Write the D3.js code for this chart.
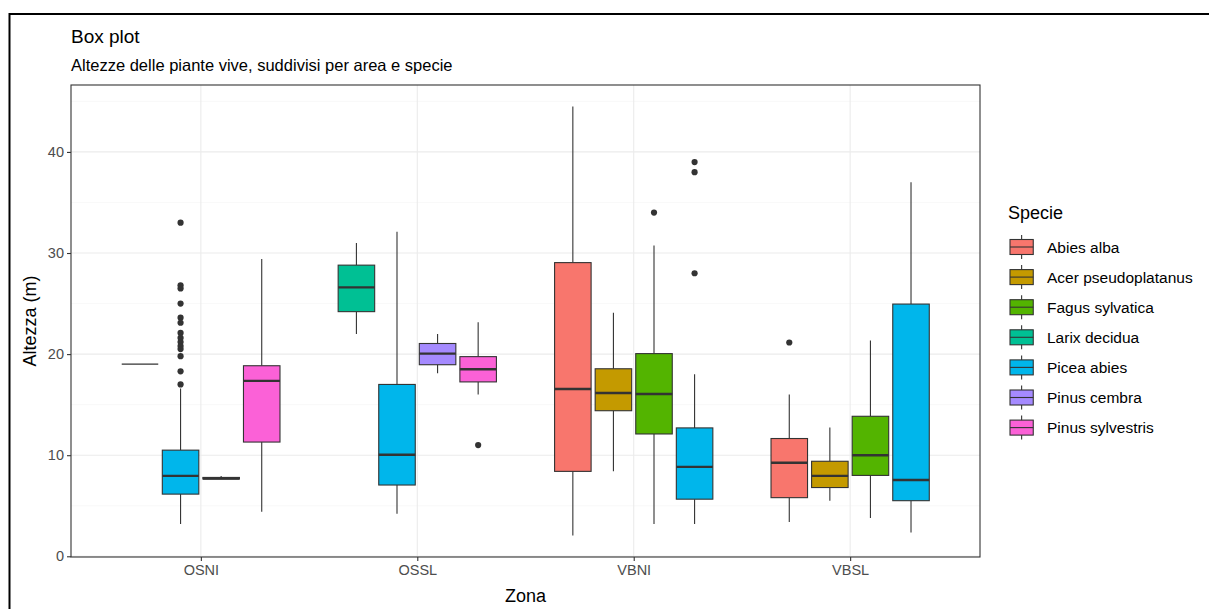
<!DOCTYPE html>
<html>
<head>
<meta charset="utf-8">
<script src="https://cdn.jsdelivr.net/npm/d3@7"></script>
<style>
  body { margin: 0; background: #fff; }
  svg { display: block; font-family: "Liberation Sans", Arial, sans-serif; }
</style>
</head>
<body>
<script>
var width = 1209
var height = 609

// zone and species
var zones = ["OSNI", "OSSL", "VBNI", "VBSL"]
var species = ["Abies alba", "Acer pseudoplatanus", "Fagus sylvatica", "Larix decidua",
               "Picea abies", "Pinus cembra", "Pinus sylvestris"]
var colors = ["#F8766D", "#C49A00", "#53B400", "#00C094", "#00B6EB", "#A58AFF", "#FB61D7"]

// box statistics, one entry per box
var boxZone    = ["OSNI", "OSNI", "OSNI", "OSNI",
                  "OSSL", "OSSL", "OSSL", "OSSL",
                  "VBNI", "VBNI", "VBNI", "VBNI",
                  "VBSL", "VBSL", "VBSL", "VBSL"]
var boxSpecies = ["Larix decidua", "Picea abies", "Pinus cembra", "Pinus sylvestris",
                  "Larix decidua", "Picea abies", "Pinus cembra", "Pinus sylvestris",
                  "Abies alba", "Acer pseudoplatanus", "Fagus sylvatica", "Picea abies",
                  "Abies alba", "Acer pseudoplatanus", "Fagus sylvatica", "Picea abies"]
var boxLow  = [19.0, 3.2, 7.65, 4.4,   22.0, 4.2, 18.1, 16.0,   2.05, 8.4, 3.2, 3.2,   3.4, 5.5, 3.8, 2.35]
var boxQ1   = [19.0, 6.15, 7.65, 11.3, 24.2, 7.05, 18.95, 17.25, 8.4, 14.4, 12.1, 5.65, 5.8, 6.8, 8.0, 5.5]
var boxMed  = [19.0, 7.95, 7.7, 17.35, 26.6, 10.05, 20.05, 18.5, 16.55, 16.15, 16.05, 8.85, 9.25, 7.95, 10.0, 7.55]
var boxQ3   = [19.0, 10.5, 7.8, 18.85, 28.8, 17.0, 21.05, 19.75, 29.05, 18.55, 20.05, 12.7, 11.65, 9.4, 13.85, 24.95]
var boxHigh = [19.0, 16.6, 7.95, 29.4, 31.0, 32.1, 22.0, 23.15, 44.5, 24.1, 30.75, 18.0, 16.0, 12.75, 21.35, 37.0]

// outliers
var outZone    = ["OSNI", "OSNI", "OSNI", "OSNI", "OSNI", "OSNI", "OSNI", "OSNI", "OSNI", "OSNI",
                  "OSNI", "OSNI", "OSNI", "OSNI",
                  "OSSL", "VBNI", "VBNI", "VBNI", "VBNI", "VBSL"]
var outSpecies = ["Picea abies", "Picea abies", "Picea abies", "Picea abies", "Picea abies",
                  "Picea abies", "Picea abies", "Picea abies", "Picea abies", "Picea abies",
                  "Picea abies", "Picea abies", "Picea abies", "Picea abies",
                  "Pinus sylvestris", "Fagus sylvatica", "Picea abies", "Picea abies", "Picea abies",
                  "Abies alba"]
var outValue   = [33.0, 26.8, 26.5, 25.0, 23.6, 23.1, 22.1, 21.6, 21.2, 20.8,
                  20.5, 19.8, 18.3, 17.0,
                  11.0, 34.0, 39.0, 38.0, 28.0, 21.15]

var yTicks = [0, 10, 20, 30, 40]
var yMinor = [5, 15, 25, 35, 45]

var panel = {left: 71, right: 980, top: 85, bottom: 557}

var svg = d3.select("body").append("svg")
    .attr("width", width)
    .attr("height", height)

// outer frame of the screenshot
svg.append("path")
    .attr("d", "M9.5," + height + "V14H" + width)
    .attr("fill", "none")
    .attr("stroke", "#000")
    .attr("stroke-width", 2)

var x = d3.scalePoint()
    .domain(zones)
    .range([panel.left, panel.right])
    .padding(0.6)

var y = d3.scaleLinear()
    .domain([-0.07, 46.62])
    .range([panel.bottom, panel.top])

var color = d3.scaleOrdinal().domain(species).range(colors)

// dodge: boxes of each zone share 0.75 of the step
var step = x.step()
var boxes = boxZone.map(function(z, i) {
    return {zone: z, sp: boxSpecies[i], lo: boxLow[i], q1: boxQ1[i], med: boxMed[i], q3: boxQ3[i], hi: boxHigh[i]}
})
function slotCenter(zone, sp) {
    var inZone = boxes.filter(function(b) { return b.zone === zone })
    var idx = inZone.findIndex(function(b) { return b.sp === sp })
    var slot = 0.75 * step / inZone.length
    return x(zone) - 0.75 * step / 2 + slot * (idx + 0.5)
}
function boxWidth(zone) {
    var n = boxes.filter(function(b) { return b.zone === zone }).length
    return 0.75 * step / n * 0.9
}

// grid
var grid = svg.append("g")
grid.selectAll(".minor").data(yMinor).enter().append("line")
    .attr("x1", panel.left).attr("x2", panel.right)
    .attr("y1", function(d) { return y(d) }).attr("y2", function(d) { return y(d) })
    .attr("stroke", "#F3F3F3").attr("stroke-width", 0.6)
grid.selectAll(".major").data(yTicks).enter().append("line")
    .attr("x1", panel.left).attr("x2", panel.right)
    .attr("y1", function(d) { return y(d) }).attr("y2", function(d) { return y(d) })
    .attr("stroke", "#EBEBEB").attr("stroke-width", 1.1)
grid.selectAll(".vmajor").data(zones).enter().append("line")
    .attr("x1", function(d) { return x(d) }).attr("x2", function(d) { return x(d) })
    .attr("y1", panel.top).attr("y2", panel.bottom)
    .attr("stroke", "#EBEBEB").attr("stroke-width", 1.1)

// boxes
var g = svg.append("g")
boxes.forEach(function(b) {
    var cx = slotCenter(b.zone, b.sp)
    var w = boxWidth(b.zone)
    g.append("line")
        .attr("x1", cx).attr("x2", cx)
        .attr("y1", y(b.hi)).attr("y2", y(b.q3))
        .attr("stroke", "#333").attr("stroke-width", 1.1)
    g.append("line")
        .attr("x1", cx).attr("x2", cx)
        .attr("y1", y(b.q1)).attr("y2", y(b.lo))
        .attr("stroke", "#333").attr("stroke-width", 1.1)
    g.append("rect")
        .attr("x", cx - w / 2).attr("width", w)
        .attr("y", y(b.q3)).attr("height", Math.max(0, y(b.q1) - y(b.q3)))
        .attr("fill", color(b.sp))
        .attr("stroke", "#333").attr("stroke-width", 1.1)
    g.append("line")
        .attr("x1", cx - w / 2).attr("x2", cx + w / 2)
        .attr("y1", y(b.med)).attr("y2", y(b.med))
        .attr("stroke", "#333").attr("stroke-width", b.q1 === b.q3 ? 1.3 : 2.4)
})

// outliers
outValue.forEach(function(v, i) {
    g.append("circle")
        .attr("cx", slotCenter(outZone[i], outSpecies[i]))
        .attr("cy", y(v))
        .attr("r", 3.1)
        .attr("fill", "#333")
})

// panel border
svg.append("rect")
    .attr("x", panel.left).attr("y", panel.top)
    .attr("width", panel.right - panel.left).attr("height", panel.bottom - panel.top)
    .attr("fill", "none").attr("stroke", "#333").attr("stroke-width", 1.1)

// axes
var yAxis = svg.append("g")
    .attr("transform", "translate(" + panel.left + ",0)")
    .call(d3.axisLeft(y).tickValues(yTicks).tickSize(4).tickPadding(3))
var xAxis = svg.append("g")
    .attr("transform", "translate(0," + panel.bottom + ")")
    .call(d3.axisBottom(x).tickSize(4).tickPadding(4))
;[xAxis, yAxis].forEach(function(a) {
    a.select(".domain").remove()
    a.selectAll(".tick line").attr("stroke", "#333").attr("stroke-width", 1.1)
    a.selectAll(".tick text").attr("fill", "#4D4D4D")
        .style("font-size", "14.5px").style("font-family", "Liberation Sans, Arial, sans-serif")
})

// titles
svg.append("text").attr("x", panel.left).attr("y", 43)
    .style("font-size", "19px").attr("fill", "#000").text("Box plot")
svg.append("text").attr("x", panel.left).attr("y", 71)
    .style("font-size", "16.5px").attr("fill", "#000")
    .text("Altezze delle piante vive, suddivisi per area e specie")
svg.append("text")
    .attr("x", (panel.left + panel.right) / 2).attr("y", 602)
    .attr("text-anchor", "middle")
    .style("font-size", "18px").text("Zona")
svg.append("text")
    .attr("transform", "translate(36," + (panel.top + panel.bottom) / 2 + ") rotate(-90)")
    .attr("text-anchor", "middle")
    .style("font-size", "18px").text("Altezza (m)")

// legend
var lx = 1008, ly = 219
var leg = svg.append("g")
leg.append("text").attr("x", lx).attr("y", ly)
    .style("font-size", "18px").text("Specie")
species.forEach(function(s, i) {
    var ky = 232 + i * 30.1
    var kx = 1010
    var kw = 31, kh = 30
    var k = leg.append("g").attr("transform", "translate(" + kx + "," + ky + ")")
    k.append("line").attr("x1", kw / 2).attr("x2", kw / 2).attr("y1", kh * 0.1).attr("y2", kh * 0.9)
        .attr("stroke", "#333").attr("stroke-width", 1.1)
    k.append("rect").attr("x", 0).attr("width", kw * 0.75).attr("y", kh * 0.25).attr("height", kh * 0.5)
        .attr("fill", color(s)).attr("stroke", "#333").attr("stroke-width", 1.1)
    k.select("line").attr("x1", kw * 0.375).attr("x2", kw * 0.375)
    k.append("line").attr("x1", 0).attr("x2", kw * 0.75).attr("y1", kh / 2).attr("y2", kh / 2)
        .attr("stroke", "#333").attr("stroke-width", 1.1)
    leg.append("text").attr("x", 1047).attr("y", ky + kh / 2 + 5.5)
        .style("font-size", "15.5px").text(s)
})
</script>
</body>
</html>
